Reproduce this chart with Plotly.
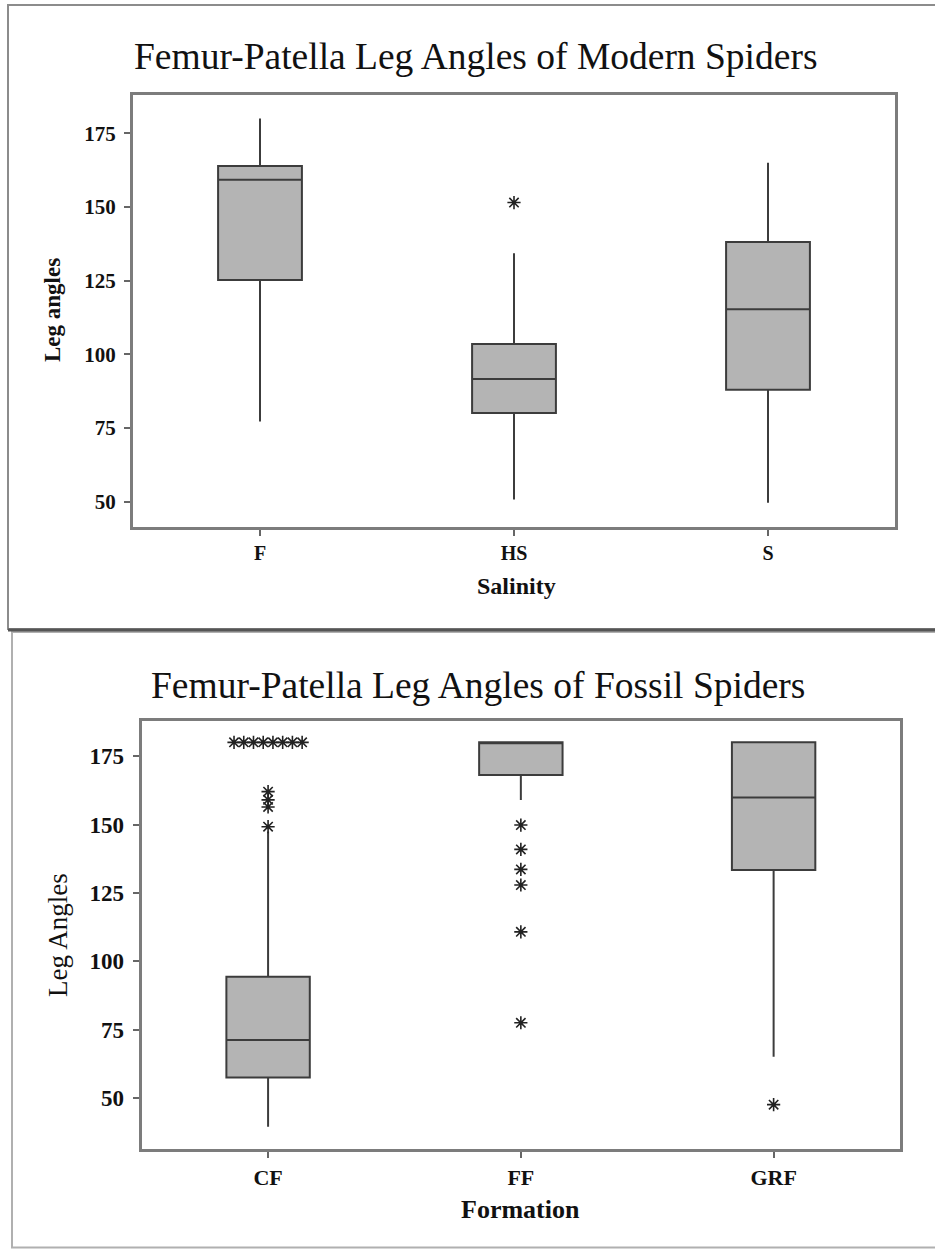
import plotly.graph_objects as go
from collections import Counter

# ---------------- Data ----------------
# Modern spiders (Salinity)
modern_cats = ["F", "HS", "S"]
modern_q1 = [125.2, 80.1, 88.0]
modern_median = [159.2, 91.6, 115.3]
modern_q3 = [163.9, 103.5, 138.1]
modern_lower = [77.2, 50.7, 49.6]
modern_upper = [180.0, 134.3, 165.0]
modern_outliers_F = []
modern_outliers_HS = [151.5]
modern_outliers_S = []

# Fossil spiders (Formation)
fossil_cats = ["CF", "FF", "GRF"]
fossil_q1 = [57.6, 168.1, 133.4]
fossil_median = [71.3, 180.0, 159.9]
fossil_q3 = [94.4, 180.0, 180.0]
fossil_lower = [39.6, 158.9, 65.2]
fossil_upper = [147.4, 180.0, 180.0]
fossil_outliers_CF = [180, 180, 180, 180, 180, 180, 180, 180, 162.0, 159.0, 156.4, 149.2]
fossil_outliers_FF = [149.8, 140.9, 133.6, 127.9, 110.8, 77.6]
fossil_outliers_GRF = [47.7]

modern_titles = ["Femur-Patella Leg Angles of Modern Spiders", "Salinity", "Leg angles"]
fossil_titles = ["Femur-Patella Leg Angles of Fossil Spiders", "Formation", "Leg Angles"]

# ---------------- Layout helpers ----------------
W, H = 935, 1249
def px_x(p):
    return p / W
def px_y(p):
    return 1 - p / H

FONT = "Liberation Serif, Times New Roman, serif"
BOX_FILL = "#b4b4b4"
BOX_LINE = "#3c3c3c"
FRAME = "#7c7c7c"
STAR = "#222222"
TIE_STEP = 0.0385  # horizontal spread of tied outliers, in category units


def outlier_xy(groups):
    xs, ys = [], []
    for i, vals in enumerate(groups):
        counts = Counter(vals)
        seen = Counter()
        for v in vals:
            n = counts[v]
            k = seen[v]
            seen[v] += 1
            xs.append(i + (k - (n - 1) / 2) * TIE_STEP)
            ys.append(v)
    return xs, ys


fig = go.Figure()

# Modern box plot
fig.add_trace(go.Box(
    x=[0, 1, 2], q1=modern_q1, median=modern_median, q3=modern_q3,
    lowerfence=modern_lower, upperfence=modern_upper,
    width=0.33, whiskerwidth=0, boxpoints=False,
    fillcolor=BOX_FILL, line=dict(color=BOX_LINE, width=2),
    xaxis="x", yaxis="y", hoverinfo="skip",
))
mx, my = outlier_xy([modern_outliers_F, modern_outliers_HS, modern_outliers_S])
fig.add_trace(go.Scatter(
    x=mx, y=my, mode="markers", xaxis="x", yaxis="y",
    marker=dict(symbol="asterisk-open", size=11, color=STAR, line=dict(color=STAR, width=1.6)),
    hoverinfo="skip",
))

# Fossil box plot
fig.add_trace(go.Box(
    x=[0, 1, 2], q1=fossil_q1, median=fossil_median, q3=fossil_q3,
    lowerfence=fossil_lower, upperfence=fossil_upper,
    width=0.33, whiskerwidth=0, boxpoints=False,
    fillcolor=BOX_FILL, line=dict(color=BOX_LINE, width=2),
    xaxis="x2", yaxis="y2", hoverinfo="skip",
))
fx, fy = outlier_xy([fossil_outliers_CF, fossil_outliers_FF, fossil_outliers_GRF])
fig.add_trace(go.Scatter(
    x=fx, y=fy, mode="markers", xaxis="x2", yaxis="y2",
    marker=dict(symbol="asterisk-open", size=11, color=STAR, line=dict(color=STAR, width=1.6)),
    hoverinfo="skip",
))

axis_common = dict(
    showline=True, mirror=True, linecolor=FRAME, linewidth=3,
    showgrid=False, zeroline=False, ticks="outside", ticklen=6,
    tickcolor="#666666", tickwidth=1.5,
)

fig.update_layout(
    width=W, height=H,
    margin=dict(l=0, r=0, t=0, b=0),
    paper_bgcolor="white", plot_bgcolor="white",
    showlegend=False,
    xaxis=dict(
        domain=[px_x(133), px_x(895)], range=[-0.5, 2.5],
        tickvals=[0, 1, 2], ticktext=modern_cats,
        tickfont=dict(family=FONT, size=20, color="#111111", weight="bold"),
        anchor="y", **axis_common,
    ),
    yaxis=dict(
        domain=[px_y(527), px_y(95)], range=[41.4, 188],
        tickvals=[50, 75, 100, 125, 150, 175],
        tickfont=dict(family=FONT, size=21, color="#111111", weight="bold"),
        ticklabelstandoff=4,
        anchor="x", **axis_common,
    ),
    xaxis2=dict(
        domain=[px_x(141.7), px_x(900)], range=[-0.5, 2.5],
        tickvals=[0, 1, 2], ticktext=fossil_cats,
        tickfont=dict(family=FONT, size=22, color="#111111", weight="bold"),
        anchor="y2", **axis_common,
    ),
    yaxis2=dict(
        domain=[px_y(1149.3), px_y(720.7)], range=[31.4, 187.9],
        tickvals=[50, 75, 100, 125, 150, 175],
        tickfont=dict(family=FONT, size=23, color="#111111", weight="bold"),
        ticklabelstandoff=4,
        anchor="x2", **axis_common,
    ),
)

# Panel frames
fig.add_shape(type="rect", xref="paper", yref="paper",
              x0=px_x(8), x1=1.02, y0=px_y(629), y1=px_y(5),
              line=dict(color="#8c8c8c", width=2), fillcolor="rgba(0,0,0,0)", layer="below")
fig.add_shape(type="rect", xref="paper", yref="paper",
              x0=px_x(12), x1=1.02, y0=px_y(1247.5), y1=px_y(632),
              line=dict(color="#b0b0b0", width=2), fillcolor="rgba(0,0,0,0)", layer="below")
fig.add_shape(type="line", xref="paper", yref="paper",
              x0=px_x(8), x1=1.0, y0=px_y(630), y1=px_y(630),
              line=dict(color="#555555", width=3))

# Titles and axis titles
ann = [
    dict(text=modern_titles[0], x=px_x(476), y=px_y(57), size=37.5, weight="normal"),
    dict(text=modern_titles[1], x=px_x(516), y=px_y(586), size=24, weight="bold"),
    dict(text=fossil_titles[0], x=px_x(478), y=px_y(685), size=37.5, weight="normal"),
    dict(text=fossil_titles[1], x=px_x(520), y=px_y(1209), size=26, weight="bold"),
]
for a in ann:
    fig.add_annotation(text=a["text"], x=a["x"], y=a["y"], xref="paper", yref="paper",
                       xanchor="center", yanchor="middle", showarrow=False,
                       font=dict(family=FONT, size=a["size"], color="#111111", weight=a["weight"]))

fig.add_annotation(text=modern_titles[2], x=px_x(52), y=px_y(310), xref="paper", yref="paper",
                   textangle=-90, showarrow=False, xanchor="center", yanchor="middle",
                   font=dict(family=FONT, size=23, color="#111111", weight="bold"))
fig.add_annotation(text=fossil_titles[2], x=px_x(58), y=px_y(935), xref="paper", yref="paper",
                   textangle=-90, showarrow=False, xanchor="center", yanchor="middle",
                   font=dict(family=FONT, size=27, color="#111111", weight="normal"))

fig.write_html("out.html", config={"displayModeBar": False},
               post_script="document.body.style.margin='0px';")
